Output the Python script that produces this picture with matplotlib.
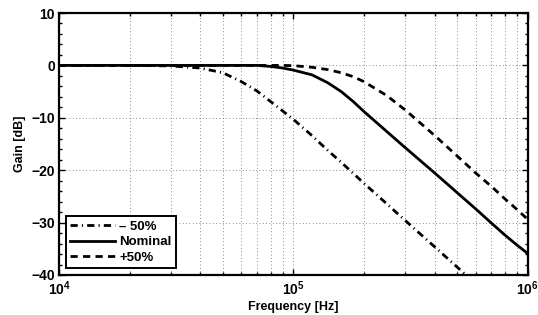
import matplotlib
matplotlib.use("Agg")
import matplotlib.pyplot as plt
from matplotlib.ticker import LogLocator, MultipleLocator, NullFormatter

plt.rcParams['font.family'] = ['Liberation Sans', 'DejaVu Sans']
plt.rcParams['font.weight'] = 'bold'
plt.rcParams['mathtext.fontset'] = 'custom'
plt.rcParams['mathtext.rm'] = 'Liberation Sans:bold'
plt.rcParams['mathtext.bf'] = 'Liberation Sans:bold'

freq = [1e4, 2e4, 3e4, 4e4, 5e4, 6e4, 7e4, 8e4, 9e4, 1e5, 1.2e5, 1.4e5, 1.6e5,
        1.8e5, 2e5, 2.5e5, 3e5, 4e5, 5e5, 6e5, 7e5, 8e5, 9e5, 1e6]
gain_minus50 = [0, 0, -0.1, -0.5, -1.4, -3.1, -4.9, -6.9, -8.7, -10.3, -13.4, -16.2, -18.5,
                -20.6, -22.5, -26.4, -29.6, -34.6, -38.5, -41.7, -44.4, -46.7, -48.7, -50.5]
gain_nominal = [0, 0, 0, 0, 0, 0, 0, -0.2, -0.5, -0.9, -1.8, -3.3, -5.0,
                -6.9, -8.8, -12.6, -15.7, -20.5, -24.3, -27.4, -30.1, -32.4, -34.3, -35.9]
gain_plus50 = [0, 0, 0, 0, 0, 0, 0, 0, 0, -0.05, -0.35, -0.8, -1.4,
               -2.15, -3.1, -5.75, -8.5, -13.35, -17.3, -20.55, -23.1, -25.5, -27.5, -29.4]

series_labels = ['\u2013 50%', 'Nominal', '+50%']
yticks = [-40, -30, -20, -10, 0, 10]
xticks = [1e4, 1e5, 1e6]
xticklabels = [r'$\mathbf{10^{4}}$', r'$\mathbf{10^{5}}$', r'$\mathbf{10^{6}}$']

fig = plt.figure(figsize=(5.38, 3.15), dpi=100)
ax = fig.add_axes([0.1097, 0.127, 0.8713, 0.8317])

ax.plot(freq, gain_minus50, color='black', lw=2.0, linestyle=(0, (2.6, 1.5, 0.4, 1.5)),
        label=series_labels[0])
ax.plot(freq, gain_nominal, color='black', lw=2.0, linestyle='-', label=series_labels[1])
ax.plot(freq, gain_plus50, color='black', lw=2.0, linestyle=(0, (2.6, 1.9)),
        label=series_labels[2])

ax.set_xscale('log')
ax.set_xlim(1e4, 1e6)
ax.set_ylim(-40, 10)
ax.set_xticks(xticks)
ax.set_xticklabels(xticklabels)
ax.xaxis.set_minor_locator(LogLocator(base=10, subs=range(2, 10)))
ax.xaxis.set_minor_formatter(NullFormatter())
ax.set_yticks(yticks)
ax.set_yticklabels(['\u2212' + str(abs(v)) if v < 0 else str(v) for v in yticks])
ax.yaxis.set_minor_locator(MultipleLocator(2))

ax.tick_params(which='both', direction='in', top=True, right=True, width=1.0, colors='black')
ax.tick_params(which='major', length=4, labelsize=10, pad=3)
ax.tick_params(which='minor', length=2.5)
for lab in ax.get_xticklabels() + ax.get_yticklabels():
    lab.set_fontweight('bold')

ax.grid(True, which='major', axis='both', linestyle=(0, (1, 3)), color='#666666', lw=0.6)
ax.grid(True, which='minor', axis='x', linestyle=(0, (1, 3)), color='#666666', lw=0.6)

for s in ax.spines.values():
    s.set_linewidth(1.6)
    s.set_color('black')

ax.set_xlabel('Frequency [Hz]', fontsize=9, fontweight='bold', labelpad=2)
ax.set_ylabel('Gain [dB]', fontsize=9, fontweight='bold', labelpad=4)

leg = ax.legend(loc='lower left', frameon=True, fancybox=False,
                handlelength=3.4, handletextpad=0.3, borderpad=0.35, labelspacing=0.25,
                borderaxespad=0.5, prop={'weight': 'bold', 'size': 9.5})
leg.get_frame().set_edgecolor('black')
leg.get_frame().set_linewidth(1.4)
leg.get_frame().set_alpha(1)

fig.savefig('out.png', dpi=100, facecolor='white')
